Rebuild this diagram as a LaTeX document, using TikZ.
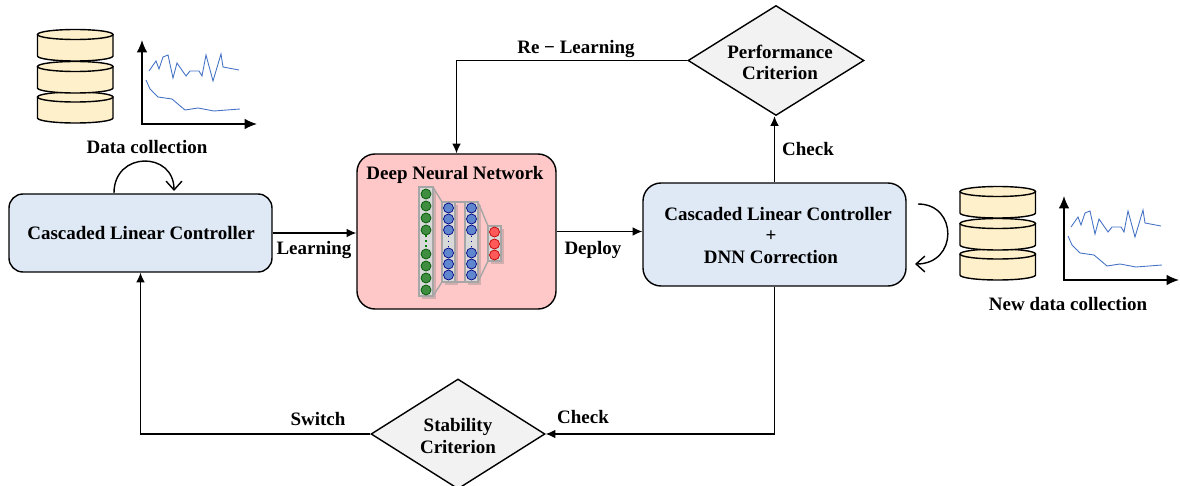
\documentclass[tikz,border=0pt]{standalone}
\usepackage{fontspec}
\setmainfont{Liberation Serif}
\usetikzlibrary{shapes.geometric,shadows,arrows.meta}
\definecolor{boxblue}{HTML}{DEE9F5}
\definecolor{boxpink}{HTML}{FFC8C8}
\definecolor{boxgrey}{HTML}{F2F2F2}
\definecolor{dbyellow}{HTML}{FFF0CC}
\definecolor{curveblue}{HTML}{4472C4}
\tikzset{
	ctrlbox/.style={draw, thick, fill=boxblue, rounded corners=14*0.02cm, align=center, inner sep=0pt},
	crit/.style={draw, thick, fill=boxgrey, diamond, aspect=1.6, inner sep=0pt, align=center},
	lab/.style={font=\fontsize{10.8}{12}\selectfont\bfseries, inner sep=0pt, align=center},
	panel/.style={draw=gray!70, fill=gray!30, line width=1pt, drop shadow={shadow xshift=1.5pt, shadow yshift=-1.5pt, opacity=0.35}},
	link/.style={draw=gray!70, line width=0.8pt},
	greenn/.style={circle, draw=green!35!black, fill=green!40!black!75, minimum size=10*0.02cm, inner sep=0pt},
	bluen/.style={circle, draw=blue!50!black, fill=curveblue!85, minimum size=10*0.02cm, inner sep=0pt},
	redn/.style={circle, draw=red!75!black, fill=red!65, minimum size=10*0.02cm, inner sep=0pt},
	database/.pic={
		\foreach \ytop/\ybot in {97/118, 66.5/88, 34.5/56}{
			\draw[thick, fill=dbyellow] (37.5,\ytop) -- (37.5,\ybot) arc (180:0:37.75 and 5) -- (113,\ytop);
			\draw[thick, fill=dbyellow] (75.25,\ytop) ellipse (37.75 and 5);
		}
	},
	chart/.pic={
		\draw[thick, {Latex[length=7pt,width=6pt]}-{Latex[length=7pt,width=6pt]}] (142,40) -- (142,124) -- (257,124);
		\draw[curveblue, line width=0.5pt] (149,71) -- (156,61) -- (159,69) -- (163,57) -- (168,55) -- (173,78) -- (177,63) -- (186,76) -- (190,71) -- (199,71) -- (202,76) -- (206,55) -- (213,81) -- (221,54) -- (223,67) -- (239,70);
		\draw[curveblue, line width=0.5pt] (146,80) -- (150,89) -- (158,97) -- (172,99) -- (185,110) -- (198,108) -- (214,111) -- (240,109);
	}
}
\begin{document}
\begin{tikzpicture}[x=0.02cm, y=-0.02cm, >={Latex[length=5.5pt,width=5pt]}]
	\useasboundingbox (0,0) rectangle (1180,486);

	% boxes
	\node[ctrlbox, minimum width=263*0.02cm, minimum height=78*0.02cm] (clcleft) at (140.5,233) {};
	\node[ctrlbox, fill=boxpink, rounded corners=18*0.02cm, minimum width=199*0.02cm, minimum height=155*0.02cm] (dnn) at (456.5,231.5) {};
	\node[ctrlbox, rounded corners=18*0.02cm, minimum width=263*0.02cm, minimum height=103*0.02cm] (clcright) at (774.5,234.5) {};
	\node[crit, minimum width=176*0.02cm, minimum height=110*0.02cm] (perf) at (776,60.5) {};
	\node[crit, minimum width=174*0.02cm, minimum height=110*0.02cm] (stab) at (458,434) {};

	% texts
	\node[lab] (clclefttxt) at (141,233) {Cascaded Linear Controller};
	\node[lab] (dnntxt) at (455,175) {Deep Neural Network};
	\node[lab] (clcrighttxt) at (778,214) {Cascaded Linear Controller};
	\node[lab] (plustxt) at (771,236) {+};
	\node[lab] (corrtxt) at (771,257) {DNN Correction};
	\node[lab] (perftxt) at (780,62) {Performance\\Criterion};
	\node[lab] (stabtxt) at (458,436) {Stability\\Criterion};
	\node[lab] (collect) at (147,147) {Data collection};
	\node[lab] (newcollect) at (1068,304) {New data collection};
	\node[lab] (learn) at (314,250) {Learning};
	\node[lab] (deploy) at (593,250) {Deploy};
	\node[lab] (checkup) at (808,149) {Check};
	\node[lab] (relearn) at (576,49) {Re − Learning};
	\node[lab] (switch) at (318,419) {Switch};
	\node[lab] (checkdown) at (583,417) {Check};

	% connectors
	\draw[thick, ->] (clcleft.east) -- (clcleft.east -| dnn.west);
	\draw[thick, ->] (dnn.east) -- (dnn.east -| clcright.west);
	\draw[thick, ->] (clcright.north) -- (clcright.north |- perf.south);
	\draw[thick, ->] (perf.west) -| (dnn.north);
	\draw[thick, ->] (clcright.south) |- (stab.east);
	\draw[thick, ->] (stab.west) -| (clcleft.south);

	% loops
	\coordinate (loopa) at (114,193);
	\coordinate (loopb) at (174,191);
	\coordinate (loopc) at (918,204);
	\coordinate (loopd) at (915,264);
	\draw[thick, -{Straight Barb[length=5pt,width=9pt]}] (loopa) .. controls (114,151) and (174,151) .. (loopb);
	\draw[thick, -{Straight Barb[length=5pt,width=9pt]}] (loopc) .. controls (958,204) and (958,264) .. (loopd);

	% data
	\pic at (0,0) {database};
	\pic at (0,0) {chart};
	\pic at (922.5,157) {database};
	\pic at (922,156) {chart};

	% network
	\draw[panel] (419,187) rectangle (433,296);
	\draw[panel] (442,202) rectangle (455,282);
	\draw[panel] (465,202) rectangle (478,282);
	\draw[panel] (488,226) rectangle (501,261);
	\draw[link] (433,187) -- (442,202) (433,296) -- (442,282);
	\draw[link] (455,202) -- (465,202) (455,282) -- (465,282);
	\draw[link] (478,202) -- (488,226) (478,282) -- (488,261);
	\foreach \y in {194,206,218,230,254,266,278,290}
		\node[greenn] (g\y) at (426,\y) {};
	\foreach \x in {448.5,471.5}
		\foreach \y in {208,219,230,253,264,275}
			\node[bluen] at (\x,\y) {};
	\foreach \y in {232,244,255}
		\node[redn] (r\y) at (494.5,\y) {};
	\draw[green!50!black, thick, dotted] (g230) -- (g254);
	\draw[blue!50!black, thick, dotted] (448.5,236) -- (448.5,247);
	\draw[blue!50!black, thick, dotted] (471.5,236) -- (471.5,247);
\end{tikzpicture}
\end{document}
